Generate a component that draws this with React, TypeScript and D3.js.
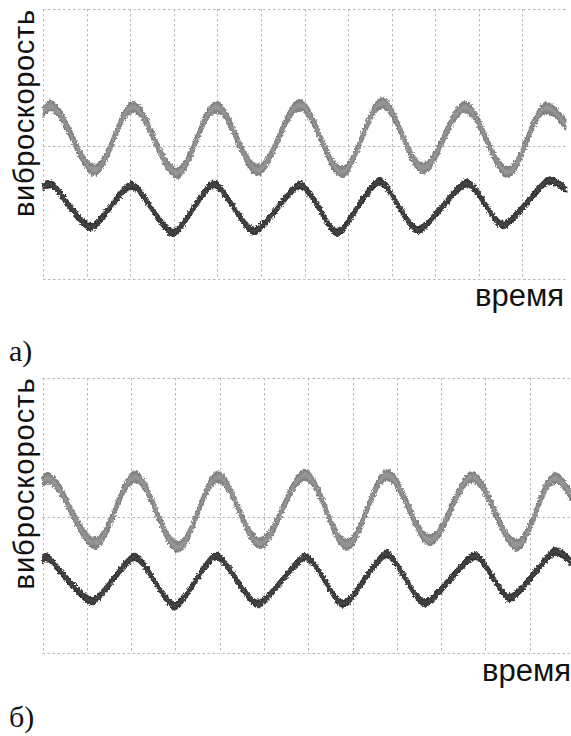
import React from "react";
import * as d3 from "d3";

type Pt = [number, number];

// time axis in screen divisions, amplitude in arbitrary units (grid at 0, 5, 10)
const timeDivisions = d3.range(0, 12);
const ampLevels = [0, 5, 10];

// panel а): upper (light) and lower (dark) vibration velocity traces
const upperA: Pt[] = [
  [0, 6.24], [0.16, 6.46], [1.19, 4.1], [2.06, 6.42], [3.07, 3.98], [3.97, 6.42],
  [4.93, 4.1], [5.89, 6.5], [6.86, 4.02], [7.78, 6.57], [8.72, 4.17], [9.68, 6.42],
  [10.67, 4.02], [11.54, 6.39], [12, 5.77],
];
const lowerA: Pt[] = [
  [0, 3.46], [0.25, 3.5], [1.1, 1.95], [2.04, 3.53], [2.98, 1.73], [3.92, 3.57],
  [4.84, 1.8], [5.89, 3.53], [6.63, 1.88], [6.88, 1.88], [7.73, 3.68], [8.6, 1.84],
  [9.72, 3.61], [10.55, 2.03], [11.56, 3.68], [12, 3.35],
];

// panel б)
const upperB: Pt[] = [
  [0, 6.29], [0.1, 6.4], [1.19, 4.04], [2.09, 6.44], [3.06, 3.9], [3.96, 6.44],
  [4.91, 4.04], [5.93, 6.51], [6.87, 3.97], [7.78, 6.51], [8.75, 4.15], [9.7, 6.44],
  [10.71, 3.97], [11.57, 6.4], [11.93, 5.79],
];
const lowerB: Pt[] = [
  [0, 3.42], [0.16, 3.46], [1.12, 1.91], [2.09, 3.53], [2.99, 1.73], [3.92, 3.57],
  [4.86, 1.8], [5.93, 3.53], [6.65, 1.95], [6.94, 1.95], [7.78, 3.64], [8.63, 1.84],
  [9.76, 3.57], [10.55, 2.02], [11.52, 3.71], [11.93, 3.35],
];

const yLabel = "виброскорость";
const xLabel = "время";

const W = 571;
const H = 736;

interface PanelProps {
  xRange: [number, number];
  yRange: [number, number, number];
  upper: Pt[];
  lower: Pt[];
  tag: string;
  tagY: number;
  xLabelY: number;
  xLabelRight: number;
  yLabelX: number;
  yLabelCenter: number;
  yLabelLen: number;
}

function Panel(p: PanelProps) {
  const x = d3.scaleLinear().domain([0, 12]).range(p.xRange);
  const y = d3.scaleLinear().domain(ampLevels).range(p.yRange);
  const xEnd = Math.min(x(12), W);

  const band = (half: number, curve: d3.CurveFactory) =>
    d3
      .area<Pt>()
      .x((d) => x(d[0]))
      .y0((d) => y(d[1]) - half)
      .y1((d) => y(d[1]) + half)
      .curve(curve);

  const smooth = d3.curveMonotoneX;
  const sharp = d3.curveCardinal.tension(0.35);

  return (
    <g>
      <g stroke="#b8b8b8" strokeWidth={1} strokeDasharray="2.5,2.5" fill="none">
        {ampLevels.map((v) => (
          <line key={"h" + v} x1={x(0)} x2={xEnd} y1={Math.round(y(v)) + 0.5} y2={Math.round(y(v)) + 0.5} />
        ))}
        {timeDivisions.map((t) => (
          <line key={"v" + t} x1={Math.round(x(t)) + 0.5} x2={Math.round(x(t)) + 0.5} y1={y(10)} y2={y(0)} />
        ))}
      </g>
      <g filter="url(#rough)">
        <path d={band(5.5, smooth)(p.upper) ?? ""} fill="#858585" stroke="#707070" strokeWidth={0.8} />
        <path d={band(2.4, smooth)(p.upper) ?? ""} fill="#a0a0a0" opacity={0.6} />
        <path d={band(3.8, sharp)(p.lower) ?? ""} fill="#383838" stroke="#222" strokeWidth={0.8} />
        <path d={band(1.4, sharp)(p.lower) ?? ""} fill="#4c4c4c" opacity={0.6} />
      </g>
      <text
        transform={`translate(${p.yLabelX},${p.yLabelCenter}) rotate(-90)`}
        textAnchor="middle"
        fontFamily="'Liberation Sans', Arial, sans-serif"
        fontSize={29}
        fill="#111"
        textLength={p.yLabelLen}
      >
        {yLabel}
      </text>
      <text
        x={p.xLabelRight}
        y={p.xLabelY}
        textAnchor="end"
        fontFamily="'Liberation Sans', Arial, sans-serif"
        fontSize={31}
        fill="#111"
      >
        {xLabel}
      </text>
      <text x={9} y={p.tagY} fontFamily="'Liberation Serif', 'Times New Roman', serif" fontSize={30} fill="#111">
        {p.tag}
      </text>
    </g>
  );
}

export default function App() {
  return (
    <svg
      width={W}
      height={H}
      viewBox={`0 0 ${W} ${H}`}
      style={{ position: "absolute", left: 0, top: 0, background: "#fff" }}
    >
      <defs>
        <filter id="rough" filterUnits="userSpaceOnUse" x={0} y={0} width={W} height={H}>
          <feTurbulence type="fractalNoise" baseFrequency="0.55 0.45" numOctaves={3} seed={7} result="noise" />
          <feDisplacementMap in="SourceGraphic" in2="noise" scale={4.5} xChannelSelector="R" yChannelSelector="G" />
        </filter>
      </defs>
      <rect width={W} height={H} fill="#fff" />
      <Panel
        xRange={[43, 566]}
        yRange={[279, 146, 9]}
        upper={upperA}
        lower={lowerA}
        tag="а)"
        tagY={361}
        xLabelY={306}
        xLabelRight={564}
        yLabelX={34}
        yLabelCenter={113.5}
        yLabelLen={207}
      />
      <Panel
        xRange={[42.5, 574]}
        yRange={[653, 517, 378]}
        upper={upperB}
        lower={lowerB}
        tag="б)"
        tagY={727}
        xLabelY={681}
        xLabelRight={571}
        yLabelX={34}
        yLabelCenter={484}
        yLabelLen={211}
      />
    </svg>
  );
}
